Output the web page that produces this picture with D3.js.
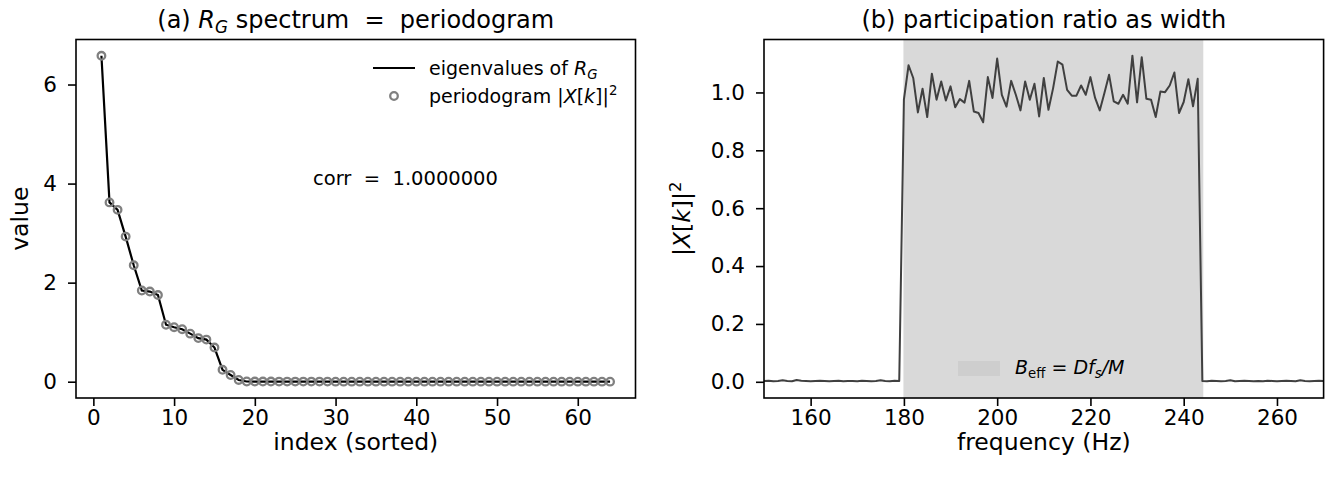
<!DOCTYPE html>
<html><head><meta charset="utf-8">
<script src="https://cdn.jsdelivr.net/npm/d3@7"></script>
<style>body{margin:0;background:#fff}svg{display:block;font-family:"DejaVu Sans",sans-serif}text{white-space:pre}</style>
</head><body><svg id="c" width="1338" height="481"></svg>
<script>
// ---------- data ----------
const indexTicks = [0, 10, 20, 30, 40, 50, 60];
const valueTicks = [0, 2, 4, 6];
const eigenvalues = [6.58, 3.62, 3.47, 2.93, 2.35, 1.84, 1.82, 1.75, 1.15, 1.10, 1.06, 0.97, 0.88, 0.85, 0.69, 0.24, 0.135, 0.035,
  0.004, 0.003, 0.003, 0.003, 0.002, 0.002, 0.002, 0.002, 0.002, 0.002, 0.002, 0.001, 0.001, 0.001, 0.001, 0.001, 0.001, 0.001,
  0.001, 0.001, 0.001, 0.001, 0.001, 0.001, 0.001, 0.001, 0.001, 0.001, 0.001, 0.001, 0.001, 0.001, 0.001, 0.001, 0.001, 0.001,
  0.001, 0.001, 0.001, 0.001, 0.001, 0.001, 0.001, 0.001, 0.001, 0.001];
const periodogram = [6.58, 3.62, 3.47, 2.93, 2.35, 1.84, 1.82, 1.75, 1.15, 1.10, 1.06, 0.97, 0.88, 0.85, 0.69, 0.24, 0.135, 0.035,
  0.004, 0.003, 0.003, 0.003, 0.002, 0.002, 0.002, 0.002, 0.002, 0.002, 0.002, 0.001, 0.001, 0.001, 0.001, 0.001, 0.001, 0.001,
  0.001, 0.001, 0.001, 0.001, 0.001, 0.001, 0.001, 0.001, 0.001, 0.001, 0.001, 0.001, 0.001, 0.001, 0.001, 0.001, 0.001, 0.001,
  0.001, 0.001, 0.001, 0.001, 0.001, 0.001, 0.001, 0.001, 0.001, 0.001];
const corrText = "1.0000000";

const freqTicks = [160, 180, 200, 220, 240, 260];
const powerTicks = [0.0, 0.2, 0.4, 0.6, 0.8, 1.0];
const freqStart = 150, freqEnd = 270;
const spectrum = [
  // 150 - 179 Hz
  0.003, 0.004, 0.002, 0.003, 0.005, 0.003, 0.002, 0.006, 0.004, 0.003, 0.002, 0.003, 0.004, 0.003, 0.002,
  0.003, 0.004, 0.002, 0.003, 0.003, 0.002, 0.004, 0.003, 0.002, 0.003, 0.005, 0.003, 0.002, 0.004, 0.003,
  // 180 - 243 Hz
  0.975, 1.094, 1.050, 0.931, 1.013, 0.915, 1.065, 0.975, 1.038, 0.972, 1.021, 0.949, 0.977, 0.965, 1.040, 0.934,
  0.929, 0.897, 1.053, 0.981, 1.117, 0.992, 0.951, 1.040, 0.992, 0.938, 1.038, 0.975, 1.030, 0.917, 1.050, 0.940,
  1.015, 1.107, 1.096, 1.009, 0.989, 0.989, 1.024, 0.992, 1.053, 0.981, 0.938, 0.998, 1.061, 0.969, 0.961, 0.992,
  0.961, 1.127, 0.966, 1.122, 0.978, 0.975, 0.915, 1.003, 1.001, 1.024, 1.069, 0.929, 0.967, 1.046, 0.952, 1.047,
  // 244 - 270 Hz
  0.003, 0.002, 0.004, 0.003, 0.002, 0.003, 0.005, 0.002, 0.003, 0.004, 0.003, 0.002, 0.003, 0.002, 0.004,
  0.003, 0.002, 0.003, 0.004, 0.003, 0.002, 0.005, 0.003, 0.002, 0.003, 0.004, 0.003];
const bandLo = 179.9, bandHi = 244.2;

// ---------- helpers ----------
const svg = d3.select("#c");
const TICK = 21.5, LAB = 23.5, TITLE = 24, LEG = 19;

function mtext(parent, x, y, parts, size, anchor, rotate) {
  const t = parent.append("text").attr("x", x).attr("y", y)
    .attr("font-size", size).attr("fill", "#000").attr("text-anchor", anchor || "start");
  if (rotate) t.attr("transform", `rotate(${rotate},${x},${y})`);
  parts.forEach(p => {
    const s = t.append("tspan").text(p.t);
    if (p.sub || p.sup) s.attr("font-size", size * 0.7);
    if (p.i) s.attr("font-style", "italic");
    if (p.sub) s.attr("dy", size * 0.22);
    if (p.sup) s.attr("dy", -size * 0.4);
    if (p.back) s.attr("dy", p.back * size);
  });
  return t;
}

function axes(x0, x1, y0, y1, xs, ys, xt, yt, yfmt) {
  const g = svg.append("g");
  const gx = g.append("g").attr("transform", `translate(0,${y1})`)
    .call(d3.axisBottom(xs).tickValues(xt).tickSize(8).tickPadding(4).tickFormat(d3.format("d")));
  const gy = g.append("g").attr("transform", `translate(${x0},0)`)
    .call(d3.axisLeft(ys).tickValues(yt).tickSize(8).tickPadding(11).tickFormat(yfmt));
  [gx, gy].forEach(a => {
    a.select(".domain").remove();
    a.selectAll("line").attr("stroke", "#000").attr("stroke-width", 1.6);
    a.selectAll("text").attr("font-size", TICK).attr("font-family", "DejaVu Sans").attr("fill", "#000");
  });
  return g;
}

function frame(x0, x1, y0, y1) {
  svg.append("rect").attr("x", x0).attr("y", y0).attr("width", x1 - x0).attr("height", y1 - y0)
    .attr("fill", "none").attr("stroke", "#000").attr("stroke-width", 1.6);
}

// ---------- panel (a) ----------
const L = { x0: 76, x1: 635.5, y0: 39.5, y1: 398 };
const xA = d3.scaleLinear().domain([-2.15, 67.15]).range([L.x0, L.x1]);
const yA = d3.scaleLinear().domain([-0.329, 6.909]).range([L.y1, L.y0]);
const idx = eigenvalues.map((d, i) => i + 1);

const gA = svg.append("g");
gA.append("path").datum(eigenvalues)
  .attr("d", d3.line().x((d, i) => xA(idx[i])).y(d => yA(d)))
  .attr("fill", "none").attr("stroke", "#000").attr("stroke-width", 2.2);
gA.selectAll("circle").data(periodogram).join("circle")
  .attr("cx", (d, i) => xA(idx[i])).attr("cy", d => yA(d)).attr("r", 3.8)
  .attr("fill", "none").attr("stroke", "#808080").attr("stroke-width", 2.3);

axes(L.x0, L.x1, L.y0, L.y1, xA, yA, indexTicks, valueTicks, d3.format("d"));
frame(L.x0, L.x1, L.y0, L.y1);

mtext(svg, (L.x0 + L.x1) / 2, 28, [{ t: "(a) " }, { t: "R", i: true }, { t: "G", i: true, sub: true },
  { t: " spectrum  =  periodogram", back: -0.22 }], TITLE, "middle");
mtext(svg, (L.x0 + L.x1) / 2, 450, [{ t: "index (sorted)" }], LAB, "middle");
mtext(svg, 28, (L.y0 + L.y1) / 2, [{ t: "value" }], LAB, "middle", -90);

// legend (a)
svg.append("line").attr("x1", 373).attr("x2", 415).attr("y1", 68).attr("y2", 68)
  .attr("stroke", "#000").attr("stroke-width", 2.2);
mtext(svg, 429, 74.5, [{ t: "eigenvalues of " }, { t: "R", i: true }, { t: "G", i: true, sub: true }], LEG);
svg.append("circle").attr("cx", 394).attr("cy", 96).attr("r", 3.8)
  .attr("fill", "none").attr("stroke", "#808080").attr("stroke-width", 2.3);
mtext(svg, 429, 102.5, [{ t: "periodogram |" }, { t: "X" , i: true }, { t: "[" }, { t: "k", i: true }, { t: "]|" },
  { t: "2", sup: true }], LEG);
mtext(svg, 313, 185, [{ t: "corr  =  " + corrText }], 19.5);

// ---------- panel (b) ----------
const R = { x0: 764, x1: 1323.6, y0: 39.5, y1: 398 };
const xB = d3.scaleLinear().domain([freqStart, freqEnd]).range([R.x0, R.x1]);
const yB = d3.scaleLinear().domain([-0.056, 1.183]).range([R.y1, R.y0]);
const freqs = d3.range(freqStart, freqEnd + 1);

const gB = svg.append("g");
gB.append("rect").attr("x", xB(bandLo)).attr("y", R.y0).attr("width", xB(bandHi) - xB(bandLo))
  .attr("height", R.y1 - R.y0).attr("fill", "#d9d9d9");
gB.append("path").datum(spectrum)
  .attr("d", d3.line().x((d, i) => xB(freqs[i])).y(d => yB(d)))
  .attr("fill", "none").attr("stroke", "#404040").attr("stroke-width", 2).attr("stroke-linejoin", "round");

axes(R.x0, R.x1, R.y0, R.y1, xB, yB, freqTicks, powerTicks, d3.format(".1f"));
frame(R.x0, R.x1, R.y0, R.y1);

mtext(svg, (R.x0 + R.x1) / 2, 28, [{ t: "(b) participation ratio as width" }], TITLE, "middle");
mtext(svg, (R.x0 + R.x1) / 2, 450, [{ t: "frequency (Hz)" }], LAB, "middle");
mtext(svg, 690, (R.y0 + R.y1) / 2, [{ t: "|" }, { t: "X", i: true }, { t: "[" }, { t: "k", i: true }, { t: "]|" },
  { t: "2", sup: true }], LAB, "middle", -90);

// legend (b)
svg.append("rect").attr("x", 958).attr("y", 361).attr("width", 42).attr("height", 15).attr("fill", "#cecece");
mtext(svg, 1015, 374, [{ t: "B", i: true }, { t: "eff", sub: true }, { t: " = ", back: -0.22 }, { t: "Df", i: true },
  { t: "s", i: true, sub: true }, { t: "/M", i: true, back: -0.22 }], LEG);
</script></body></html>
